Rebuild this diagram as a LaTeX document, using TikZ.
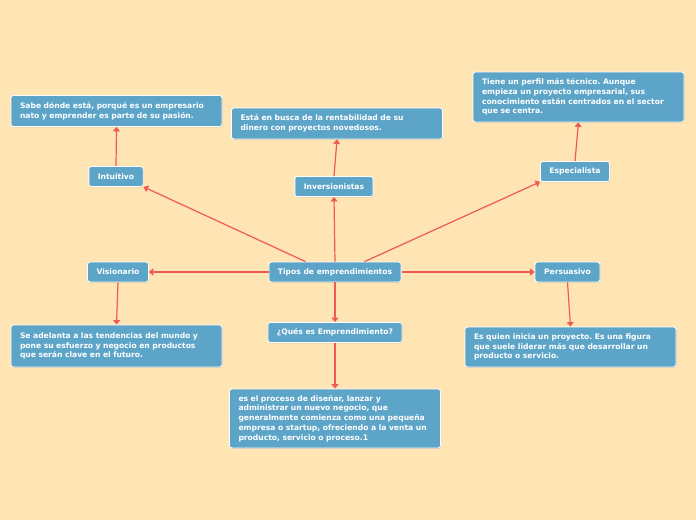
\documentclass[tikz,border=0pt]{standalone}
\usepackage{fontspec}
\setmainfont{DejaVu Sans}
\usetikzlibrary{arrows.meta,shadows}
\frenchspacing

\definecolor{fondo}{HTML}{FFE4B4}
\definecolor{caja}{HTML}{5DA5C8}
\definecolor{flecha}{HTML}{EE5A5A}

\tikzset{
  tema/.style={draw=white, line width=0.8pt, fill=caja, rounded corners=2.5pt,
    text=white, font=\fontsize{7.6}{9.5}\selectfont\bfseries,
    drop shadow={shadow xshift=0.6pt, shadow yshift=-0.8pt, opacity=0.35},
    minimum height=20pt, inner xsep=9pt},
  nota/.style={tema, text width=193pt, align=left, inner xsep=9pt, inner ysep=4pt,
    font=\fontsize{7.6}{9.7}\selectfont\bfseries},
  rama/.style={draw=flecha, line width=1.2pt,
    -{Triangle[width=7pt,length=4.5pt]}}
}

\begin{document}
\begin{tikzpicture}[x=1pt,y=-1pt]
  \fill[fondo] (0,0) rectangle (696,520);
  \useasboundingbox (0,0) rectangle (696,520);

  % nodo central
  \node[tema] (tipos) at (335,272) {Tipos de emprendimientos};

  % tipos
  \node[tema] (intuitivo) at (116,176.5) {Intuitivo};
  \node[tema] (inversion) at (334,186.5) {Inversionistas};
  \node[tema] (especial) at (575,171.5) {Especialista};
  \node[tema] (visionario) at (118,272) {Visionario};
  \node[tema] (persuasivo) at (567.5,272) {Persuasivo};
  \node[tema] (ques) at (335,332.5) {¿Qués es Emprendimiento?};

  % descripciones
  \node[nota, minimum height=31pt] (intuitivoT) at (116.5,111)
    {Sabe dónde está, porqué es un empresario\\ nato y emprender es parte de su pasión.};
  \node[nota, minimum height=31pt] (inversionT) at (337,123.5)
    {Está en busca de la rentabilidad de su\\ dinero con proyectos novedosos.};
  \node[nota, minimum height=50pt] (especialT) at (578.5,97)
    {Tiene un perfil más técnico. Aunque\\ empieza un proyecto empresarial, sus\\ conocimiento están centrados en el sector\\ que se centra.};
  \node[nota, minimum height=42pt] (visionarioT) at (116.5,346)
    {Se adelanta a las tendencias del mundo y\\ pone su esfuerzo y negocio en productos\\ que serán clave en el futuro.};
  \node[nota, minimum height=40pt] (persuasivoT) at (570.5,347)
    {Es quien inicia un proyecto. Es una figura\\ que suele liderar más que desarrollar un\\ producto o servicio.};
  \node[nota, minimum height=59pt] (quesT) at (335,418.5)
    {es el proceso de diseñar, lanzar y\\ administrar un nuevo negocio, que\\ generalmente comienza como una pequeña\\ empresa o startup, ofreciendo a la venta un\\ producto, servicio o proceso.1};

  % ramas
  \draw[rama] (tipos.north west) ++(37,0) -- (intuitivo.south east);
  \draw[rama] (tipos.north) -- (inversion.south);
  \draw[rama] (tipos.north east) ++(-37,0) -- (especial.south west);
  \draw[rama] (tipos.west) -- (visionario.east);
  \draw[rama] (tipos.east) -- (persuasivo.west);
  \draw[rama] (tipos.south) -- (ques.north);

  \draw[rama] (intuitivo.north) -- (intuitivoT.south);
  \draw[rama] (inversion.north) -- (inversionT.south);
  \draw[rama] (especial.north) -- (especialT.south);
  \draw[rama] (visionario.south) -- (visionarioT.north);
  \draw[rama] (persuasivo.south) -- (persuasivoT.north);
  \draw[rama] (ques.south) -- (quesT.north);
\end{tikzpicture}
\end{document}
